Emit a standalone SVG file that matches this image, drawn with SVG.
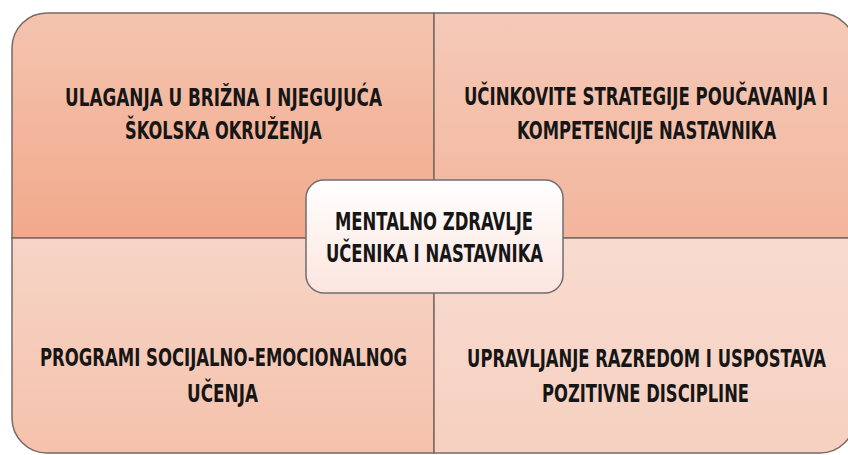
<svg xmlns="http://www.w3.org/2000/svg" width="848" height="455" viewBox="0 0 848 455">
  <defs>
    <linearGradient id="gTL" x1="0" y1="0" x2="0" y2="1">
      <stop offset="0" stop-color="#F4C4AF"/>
      <stop offset="1" stop-color="#F2A98B"/>
    </linearGradient>
    <linearGradient id="gTR" x1="0" y1="0" x2="0" y2="1">
      <stop offset="0" stop-color="#F5CAB8"/>
      <stop offset="1" stop-color="#F3B59C"/>
    </linearGradient>
    <linearGradient id="gBL" x1="0" y1="0" x2="0" y2="1">
      <stop offset="0" stop-color="#F6D4C6"/>
      <stop offset="1" stop-color="#F5C2AC"/>
    </linearGradient>
    <linearGradient id="gBR" x1="0" y1="0" x2="0" y2="1">
      <stop offset="0" stop-color="#F8DBCF"/>
      <stop offset="1" stop-color="#F6D0C1"/>
    </linearGradient>
    <linearGradient id="gC" x1="0" y1="0" x2="0" y2="1">
      <stop offset="0" stop-color="#FFFFFF"/>
      <stop offset="1" stop-color="#FCE5DF"/>
    </linearGradient>
  </defs>
  <style>
    .quad { stroke: #7a6964; stroke-width: 1.5; }
    .lbl { font-family: "DejaVu Sans Condensed", "DejaVu Sans", "Liberation Sans", sans-serif; font-weight: bold; font-size: 24px; fill: #161616; text-anchor: middle; }
    .center { fill: url(#gC); stroke: #6f6f6f; stroke-width: 1.5; }
  </style>

  <g id="node-top-left">
    <path class="quad" fill="url(#gTL)" d="M12,238 V48 A35,35 0 0 1 47,13 H434 V238 Z"/>
    <text class="lbl" transform="translate(223.5,106) scale(0.6,1)" textLength="528" lengthAdjust="spacingAndGlyphs">ULAGANJA U BRIŽNA I NJEGUJUĆA</text>
    <text class="lbl" transform="translate(223.5,139) scale(0.6,1)" textLength="328" lengthAdjust="spacingAndGlyphs">ŠKOLSKA OKRUŽENJA</text>
  </g>

  <g id="node-top-right">
    <path class="quad" fill="url(#gTR)" d="M434,13 H820 A35,35 0 0 1 855,48 V238 H434 Z"/>
    <text class="lbl" transform="translate(646,105) scale(0.6,1)" textLength="607" lengthAdjust="spacingAndGlyphs">UČINKOVITE STRATEGIJE POUČAVANJA I</text>
    <text class="lbl" transform="translate(646.5,139) scale(0.6,1)" textLength="432" lengthAdjust="spacingAndGlyphs">KOMPETENCIJE NASTAVNIKA</text>
  </g>

  <g id="node-bottom-left">
    <path class="quad" fill="url(#gBL)" d="M12,238 H434 V453 H47 A35,35 0 0 1 12,418 Z"/>
    <text class="lbl" transform="translate(223.5,366) scale(0.6,1)" textLength="612" lengthAdjust="spacingAndGlyphs">PROGRAMI SOCIJALNO-EMOCIONALNOG</text>
    <text class="lbl" transform="translate(222.5,402) scale(0.6,1)" textLength="118" lengthAdjust="spacingAndGlyphs">UČENJA</text>
  </g>

  <g id="node-bottom-right">
    <path class="quad" fill="url(#gBR)" d="M434,238 H855 V418 A35,35 0 0 1 820,453 H434 Z"/>
    <text class="lbl" transform="translate(646.5,367) scale(0.6,1)" textLength="598" lengthAdjust="spacingAndGlyphs">UPRAVLJANJE RAZREDOM I USPOSTAVA</text>
    <text class="lbl" transform="translate(645.5,402) scale(0.6,1)" textLength="345" lengthAdjust="spacingAndGlyphs">POZITIVNE DISCIPLINE</text>
  </g>

  <g id="connectors"></g>

  <g id="node-center">
    <rect class="center" x="306" y="180" width="257" height="113" rx="18" ry="18"/>
    <text class="lbl" transform="translate(434,230) scale(0.6,1)" textLength="330" lengthAdjust="spacingAndGlyphs">MENTALNO ZDRAVLJE</text>
    <text class="lbl" transform="translate(434.5,262) scale(0.6,1)" textLength="362" lengthAdjust="spacingAndGlyphs">UČENIKA I NASTAVNIKA</text>
  </g>
</svg>
